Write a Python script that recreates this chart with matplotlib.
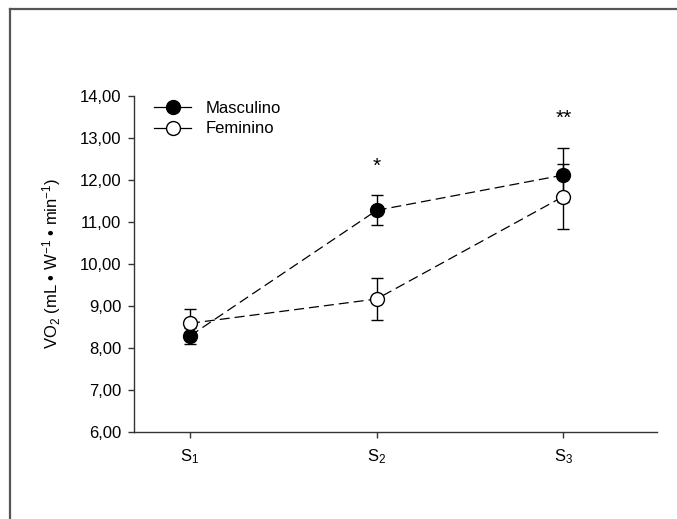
import matplotlib
matplotlib.use("Agg")
import matplotlib.pyplot as plt
from matplotlib.lines import Line2D

plt.rcParams['font.family'] = ['Liberation Sans', 'DejaVu Sans']
plt.rcParams['mathtext.fontset'] = 'custom'
plt.rcParams['mathtext.rm'] = 'Liberation Sans'
plt.rcParams['mathtext.it'] = 'Liberation Sans'

sessions = [1, 2, 3]
session_labels = ['S$_1$', 'S$_2$', 'S$_3$']
masc_mean = [8.28, 11.27, 12.11]
masc_err = [0.20, 0.36, 0.65]
fem_mean = [8.58, 9.16, 11.60]
fem_err = [0.34, 0.51, 0.77]
yticks = [6, 7, 8, 9, 10, 11, 12, 13, 14]
stars = [(2, 12.33, '*'), (3, 13.47, '**')]

FS = 12

fig = plt.figure(figsize=(6.77, 5.19), dpi=100)
ax = fig.add_axes([134/677, (519-431.7)/519, (656.7-134)/677, (431.7-95.7)/519])

dash = (0, (8, 4))
ax.plot(sessions, masc_mean, color='black', lw=0.9, linestyle=dash, zorder=2)
ax.plot(sessions, fem_mean, color='black', lw=0.9, linestyle=dash, zorder=2)
ax.errorbar(sessions, masc_mean, yerr=masc_err, fmt='none', ecolor='black',
            elinewidth=1, capsize=4, capthick=1, zorder=3)
ax.errorbar(sessions, fem_mean, yerr=fem_err, fmt='none', ecolor='black',
            elinewidth=1, capsize=4, capthick=1, zorder=3)
ax.plot(sessions, masc_mean, 'o', color='black', markersize=10,
        markeredgecolor='black', markeredgewidth=1, zorder=4)
ax.plot(sessions, fem_mean, 'o', markerfacecolor='white', markersize=10,
        markeredgecolor='black', markeredgewidth=1, zorder=5)

for x, y, s in stars:
    ax.text(x, y, s, ha='center', va='center', fontsize=15)

ax.set_xlim(0.7, 3.5)
ax.set_ylim(6, 14)
ax.set_xticks(sessions)
ax.set_xticklabels(session_labels, fontsize=FS)
ax.set_yticks(yticks)
ax.set_yticklabels([f"{v:.2f}".replace('.', ',') for v in yticks], fontsize=FS)
ax.tick_params(direction='out', length=4, width=1, color='#333333')
ax.tick_params(axis='x', pad=7)
ax.tick_params(axis='y', pad=5)
for sp in ['top', 'right']:
    ax.spines[sp].set_visible(False)
for sp in ['left', 'bottom']:
    ax.spines[sp].set_linewidth(1)
    ax.spines[sp].set_color('#333333')
ax.set_ylabel('VO$_2$ (mL • W$^{-1}$ • min$^{-1}$)', fontsize=FS, labelpad=12)

handles = [
    Line2D([], [], color='black', lw=0.9, marker='o', markersize=10,
           markerfacecolor='black', markeredgecolor='black'),
    Line2D([], [], color='black', lw=0.9, marker='o', markersize=10,
           markerfacecolor='white', markeredgecolor='black'),
]
ax.legend(handles, ['Masculino', 'Feminino'], loc='upper left',
          bbox_to_anchor=(0.01, 1.03), frameon=False, fontsize=FS,
          handlelength=2.2, handletextpad=0.9, labelspacing=0.35)

fig.add_artist(Line2D([9.5/677, 1.0], [1 - 8.5/519, 1 - 8.5/519],
                      transform=fig.transFigure, color='#555555', lw=1.6))
fig.add_artist(Line2D([9.5/677, 9.5/677], [0, 1 - 8.5/519],
                      transform=fig.transFigure, color='#555555', lw=1.6))

fig.savefig('out.png', dpi=100)
